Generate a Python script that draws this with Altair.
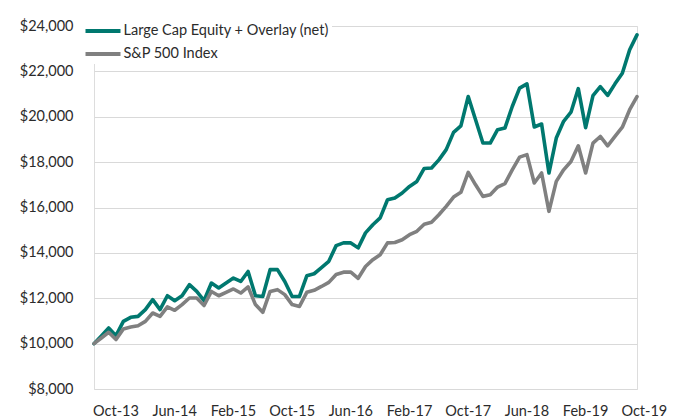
import altair as alt
import pandas as pd

# Month categories on the axis (Jul-13 ... Oct-19); the data runs Jul-13 ... Sep-19
axis_months = list(pd.date_range("2013-07-01", "2019-10-01", freq="MS").strftime("%b-%y"))

series_names = ["Large Cap Equity + Overlay (net)", "S&P 500 Index"]
series_colors = ["#00786f", "#808080"]

large_cap = [
    10000, 10340, 10690, 10350, 10980, 11160, 11200, 11500, 11940, 11500,
    12110, 11890, 12110, 12600, 12300, 11900, 12670, 12450, 12670, 12890,
    12740, 13180, 12110, 12080, 13260, 13260, 12740, 12080, 12080, 12990,
    13080, 13350, 13630, 14320, 14440, 14440, 14220, 14880, 15240, 15540,
    16340, 16420, 16640, 16930, 17150, 17720, 17740, 18100, 18550, 19310,
    19600, 20890, 19870, 18840, 18840, 19430, 19500, 20450, 21260, 21450,
    19550, 19680, 17520, 19060, 19800, 20200, 21240, 19520, 20930, 21330,
    20940, 21450, 21920, 22950, 23610,
]
sp500 = [
    10000, 10250, 10500, 10180, 10650, 10730, 10790, 10980, 11350, 11200,
    11620, 11470, 11720, 12010, 12010, 11680, 12300, 12110, 12260, 12410,
    12230, 12500, 11720, 11380, 12300, 12380, 12160, 11720, 11640, 12260,
    12350, 12520, 12700, 13050, 13150, 13150, 12880, 13400, 13700, 13920,
    14440, 14460, 14580, 14800, 14950, 15260, 15350, 15680, 16050, 16460,
    16670, 17550, 17000, 16490, 16560, 16900, 17050, 17660, 18220, 18330,
    17080, 17520, 15830, 17150, 17660, 18030, 18720, 17520, 18840, 19130,
    18720, 19130, 19540, 20310, 20890,
]

tick_labels = ["Oct-13", "Jun-14", "Feb-15", "Oct-15", "Jun-16",
               "Feb-17", "Oct-17", "Jun-18", "Feb-19", "Oct-19"]
y_ticks = [8000, 10000, 12000, 14000, 16000, 18000, 20000, 22000, 24000]

rows = []
for name, vals in zip(series_names, [large_cap, sp500]):
    for i, v in enumerate(vals):
        rows.append({"idx": i, "month": axis_months[i], "series": name, "value": v})
df = pd.DataFrame(rows)

lab_df = pd.DataFrame({"label": tick_labels,
                       "pos": [axis_months.index(t) for t in tick_labels]})

FONT = "Lato"
TXT = "#2b2b2b"

xscale = alt.Scale(domain=[0, len(large_cap) - 1], nice=False, zero=False)
yscale = alt.Scale(domain=[8000, 24000], nice=False, zero=False)

lines = alt.Chart(df).mark_line(strokeWidth=3.6, strokeJoin="round", strokeCap="round").encode(
    x=alt.X("idx:Q", scale=xscale, axis=None),
    y=alt.Y("value:Q", scale=yscale, title=None,
            axis=alt.Axis(values=y_ticks, format="$,.0f", grid=True, gridColor="#d9d9d9",
                          gridWidth=1.2, domain=False, ticks=False, tickSize=0,
                          labelPadding=21, labelFont=FONT, labelFontSize=14.5,
                          labelColor=TXT)),
    color=alt.Color("series:N",
                    scale=alt.Scale(domain=series_names, range=series_colors),
                    legend=alt.Legend(title=None, orient="none", legendX=-4, legendY=-8,
                                      symbolType="M-2,0H2", symbolSize=306,
                                      symbolStrokeWidth=4, labelOffset=9.5,
                                      labelFont=FONT, labelFontSize=14.5, labelColor=TXT,
                                      labelLimit=400, rowPadding=4, padding=2,
                                      fillColor="white")),
    order=alt.Order("idx:Q"),
)

xlabels = alt.Chart(lab_df).mark_text(font=FONT, fontSize=14.5, color=TXT,
                                      baseline="middle", align="center", dy=23).encode(
    x=alt.X("pos:Q", scale=xscale, axis=None),
    y=alt.datum(8000),
    text="label:N",
)

chart = alt.layer(lines, xlabels).properties(
    width=543, height=363,
    autosize=alt.AutoSizeParams(type="none"),
    padding={"left": 86, "top": 18, "right": 36, "bottom": 30},
).configure_view(stroke=None).configure(background="white")

chart.save("out.html", embed_options={"renderer": "svg", "actions": False})
